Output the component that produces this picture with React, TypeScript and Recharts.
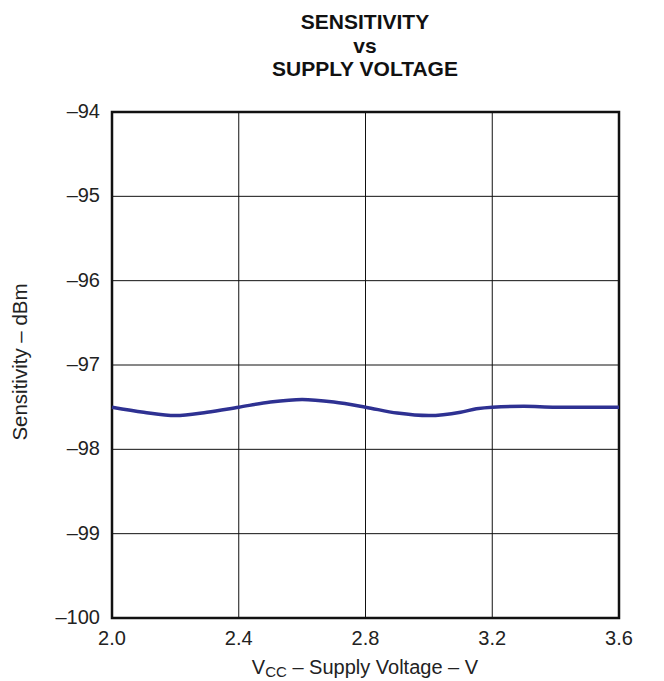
import { LineChart, Line, XAxis, YAxis, CartesianGrid, ReferenceArea } from 'recharts';

const voltage = [2.0, 2.1, 2.2, 2.3, 2.4, 2.5, 2.6, 2.7, 2.8, 2.9, 3.0, 3.1, 3.15, 3.2, 3.3, 3.4, 3.5, 3.6];
const sensitivity = [-97.5, -97.56, -97.6, -97.56, -97.5, -97.44, -97.41, -97.44, -97.5, -97.57, -97.6, -97.56, -97.52, -97.5, -97.49, -97.5, -97.5, -97.5];

const xTicks = [2.0, 2.4, 2.8, 3.2, 3.6];
const yTicks = [-100, -99, -98, -97, -96, -95, -94];

const data = voltage.map((v, i) => ({ v, s: sensitivity[i] }));

const FONT = '"Liberation Sans", Arial, sans-serif';

function fmtY(n: number) {
  return n < 0 ? `\u2013${Math.abs(n)}` : `${n}`;
}

const XTick = (props: any) => {
  const { x, y, payload } = props;
  return (
    <text x={x} y={y} dy={15} textAnchor="middle" fontSize={20} fill="#222" fontFamily={FONT}>
      {Number(payload.value).toFixed(1)}
    </text>
  );
};

const YTick = (props: any) => {
  const { x, y, payload } = props;
  return (
    <text x={x} y={y} dy={6} textAnchor="end" fontSize={20} fill="#222" fontFamily={FONT}>
      {fmtY(payload.value)}
    </text>
  );
};

export default function App() {
  return (
    <div style={{ position: 'absolute', left: 0, top: 0, width: 664, height: 681, background: '#fff', fontFamily: FONT }}>
      <div
        style={{
          position: 'absolute',
          left: 0,
          width: 730,
          top: 10,
          textAlign: 'center',
          fontWeight: 'bold',
          fontSize: 21,
          lineHeight: '23.5px',
          color: '#111',
        }}
      >
        SENSITIVITY
        <br />
        vs
        <br />
        SUPPLY VOLTAGE
      </div>
      <LineChart width={664} height={681} data={data} margin={{ top: 112, right: 45, bottom: 33, left: 52 }}>
        <CartesianGrid stroke="#111" strokeWidth={1} />
        <XAxis
          dataKey="v"
          type="number"
          domain={[2, 3.6]}
          ticks={xTicks}
          axisLine={false}
          tickLine={false}
          tickSize={0}
          tickMargin={12}
          height={30}
          tick={<XTick />}
        />
        <YAxis
          type="number"
          domain={[-100, -94]}
          ticks={yTicks}
          axisLine={false}
          tickLine={false}
          tickSize={0}
          tickMargin={12}
          width={60}
          tick={<YTick />}
        />
        <ReferenceArea x1={2} x2={3.6} y1={-100} y2={-94} fill="none" stroke="#111" strokeWidth={2.5} />
        <Line
          type="monotone"
          dataKey="s"
          stroke="#2e3192"
          strokeWidth={3.5}
          dot={false}
          isAnimationActive={false}
        />
      </LineChart>
      <div
        style={{
          position: 'absolute',
          left: 0,
          width: 730,
          top: 656,
          textAlign: 'center',
          fontSize: 20,
          lineHeight: '22px',
          color: '#222',
          whiteSpace: 'nowrap',
        }}
      >
        V<sub style={{ fontSize: 15, verticalAlign: -3, lineHeight: 0 }}>CC</sub> – Supply Voltage – V
      </div>
      <div
        style={{
          position: 'absolute',
          left: 20,
          top: 362,
          transform: 'translate(-50%, -50%) rotate(-90deg)',
          whiteSpace: 'nowrap',
          fontSize: 20.5,
          color: '#222',
        }}
      >
        Sensitivity – dBm
      </div>
    </div>
  );
}
